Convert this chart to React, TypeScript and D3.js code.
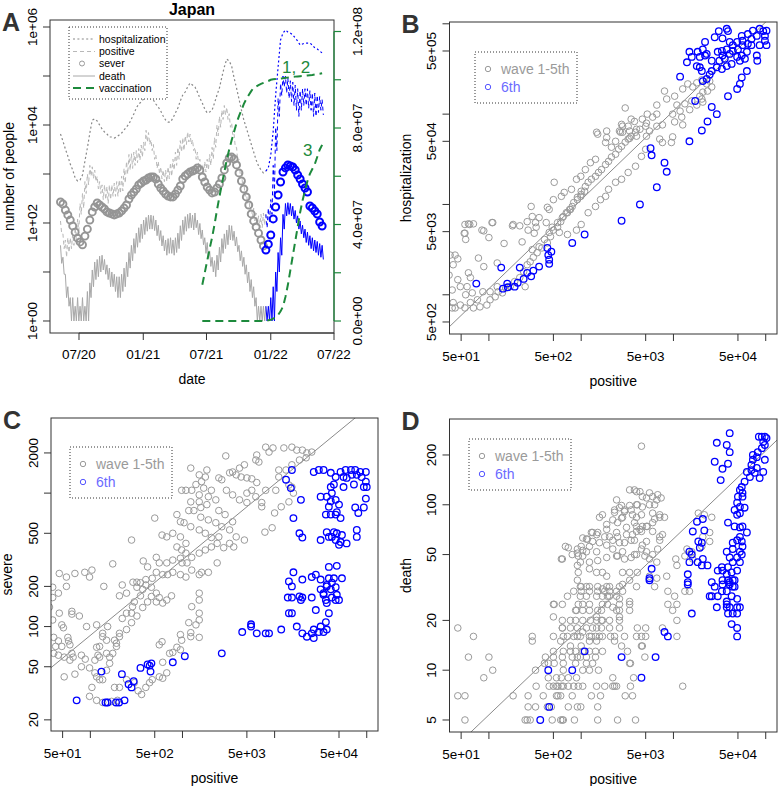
import React from 'react';
import * as d3 from 'd3';

// weekly samples, first week starts 2020-05-09
const START = new Date(2020, 4, 9);
const WAVE6 = 84; // index of first 6th-wave week (2021-12-18)
const VAC_START = 58; // vaccination series begins at this week

const hospitalization = [6550, 4710, 3240, 2330, 1600, 1210, 830, 720, 755, 955, 1840, 3400, 6870, 12600, 13300, 12100, 10000, 8290, 7200, 6550, 5690, 5690, 5430, 5690, 6250, 6870, 7900, 9100, 10500, 13300, 16800, 22200, 26800, 29500, 34000, 37300, 37300, 34000, 32400, 26800, 23300, 19300, 15300, 12600, 11500, 11500, 13900, 17600, 22200, 30900, 40900, 47100, 59700, 71900, 65500, 59700, 47100, 35600, 28100, 21200, 17600, 18400, 20200, 28100, 40900, 56900, 95500, 153000, 222000, 202000, 160000, 91000, 56900, 34000, 20200, 12600, 8690, 5970, 4100, 2810, 1930, 1460, 1210, 1050, 1150, 1330, 2440, 7550, 40900, 153000, 543000, 755000, 869000, 791000, 755000, 687000, 597000, 518000, 429000, 450000, 471000, 471000, 471000, 429000, 373000, 356000, 324000, 295000];
const severe = [268, 244, 184, 146, 115, 87, 65, 49, 41, 36, 54, 75, 115, 168, 212, 256, 233, 212, 193, 168, 160, 153, 146, 153, 160, 176, 202, 233, 309, 373, 429, 494, 597, 655, 720, 755, 829, 869, 869, 791, 625, 518, 450, 391, 356, 340, 340, 391, 471, 569, 791, 910, 1000, 1100, 1150, 1210, 1330, 1210, 869, 687, 543, 471, 410, 429, 518, 625, 829, 1210, 1680, 2120, 2220, 2020, 1530, 1050, 720, 494, 340, 233, 153, 110, 83, 62, 45, 34, 28, 37, 57, 121, 212, 373, 687, 1100, 1330, 1530, 1460, 1390, 1210, 955, 791, 625, 518, 429, 222, 202, 176, 153, 105, 87];
const positiveHigh = [110, 60, 45, 50, 50, 60, 80, 120, 250, 400, 700, 1000, 1500, 1400, 1200, 900, 700, 600, 600, 550, 600, 600, 650, 700, 750, 900, 1300, 1800, 2500, 2600, 2800, 3000, 3300, 3900, 4500, 7800, 7000, 5000, 4000, 2500, 1800, 1400, 1200, 1200, 1400, 1700, 2000, 2800, 3500, 4800, 5500, 6000, 7200, 6500, 5000, 3500, 2800, 2000, 1600, 1800, 2000, 2500, 3500, 5500, 10000, 15000, 20000, 25000, 23000, 17000, 11000, 6500, 3500, 2000, 1100, 700, 450, 350, 250, 200, 160, 140, 150, 160, 150, 200, 300, 1500, 9000, 35000, 70000, 100000, 100000, 90000, 80000, 75000, 65000, 55000, 50000, 55000, 55000, 55000, 50000, 45000, 45000, 40000, 38000, 33000];
const positiveLow = [60, 30, 20, 25, 30, 35, 45, 70, 150, 200, 400, 600, 900, 800, 700, 500, 400, 300, 300, 250, 300, 350, 350, 350, 400, 450, 650, 1000, 1200, 1300, 1500, 1700, 1900, 2200, 3000, 4500, 4000, 3000, 2000, 1300, 1000, 800, 700, 700, 800, 900, 1200, 1500, 2000, 2800, 3000, 4000, 4500, 4000, 3000, 2000, 1500, 1200, 1000, 1100, 1200, 1500, 2000, 3500, 6000, 9000, 13000, 16000, 13000, 9000, 6000, 3500, 1800, 1000, 600, 350, 250, 180, 130, 110, 90, 80, 80, 90, 80, 100, 150, 400, 3000, 15000, 40000, 60000, 45000, 35000, 30000, 25000, 20000, 15000, 20000, 25000, 25000, 22000, 20000, 15000, 15000, 18000, 20000, 16000];
const deathHigh = [35, 20, 9, 5, 3, 3, 2, 3, 2, 3, 2, 4, 6, 11, 16, 18, 21, 22, 18, 14, 12, 10, 9, 8, 8, 9, 12, 16, 25, 35, 48, 62, 80, 95, 115, 130, 145, 145, 140, 115, 90, 70, 55, 45, 48, 50, 45, 50, 62, 88, 115, 135, 150, 160, 145, 160, 115, 98, 72, 50, 40, 27, 20, 17, 22, 32, 48, 60, 72, 90, 88, 68, 52, 35, 27, 20, 14, 10, 7, 5, 3, 2, 2, 2, 2, 2, 3, 5, 10, 25, 50, 150, 250, 260, 250, 220, 180, 140, 110, 90, 75, 65, 55, 50, 45, 42, 38, 35];
const deathLow = [15, 9, 3, 2, 1, 1, 1, 1, 1, 1, 1, 1, 3, 5, 7, 8, 10, 11, 9, 7, 5, 5, 4, 3, 3, 4, 5, 8, 12, 17, 24, 32, 40, 48, 58, 68, 75, 75, 70, 55, 44, 34, 27, 22, 24, 24, 22, 25, 30, 44, 58, 68, 78, 80, 72, 80, 58, 48, 36, 24, 19, 13, 10, 8, 11, 16, 24, 30, 36, 45, 44, 34, 26, 17, 13, 9, 6, 4, 3, 2, 1, 1, 1, 1, 1, 1, 1, 1, 4, 10, 22, 75, 140, 150, 140, 120, 100, 75, 60, 50, 40, 35, 30, 27, 25, 22, 20, 18];
const vaccine12 = [1.5e7, 2.0e7, 2.5e7, 3.0e7, 3.46e7, 4.0e7, 4.6e7, 5.15e7, 5.67e7, 6.17e7, 6.68e7, 7.11e7, 7.49e7, 7.85e7, 8.21e7, 8.49e7, 8.74e7, 9.0e7, 9.2e7, 9.37e7, 9.53e7, 9.67e7, 9.72e7, 9.78e7, 9.83e7, 9.87e7, 9.91e7, 9.95e7, 1.0e8, 1.002e8, 1.003e8, 1.004e8, 1.005e8, 1.006e8, 1.008e8, 1.009e8, 1.011e8, 1.012e8, 1.013e8, 1.014e8, 1.015e8, 1.016e8, 1.017e8, 1.018e8, 1.019e8, 1.02e8, 1.022e8, 1.024e8, 1.025e8, 1.027e8];
const vaccine3 = [0, 0, 0, 0, 0, 0, 0, 0, 0, 0, 0, 0, 0, 0, 0, 0, 0, 0, 0, 0, 0, 0, 0, 0, 0, 0, 1e5, 3e5, 5e5, 1e6, 1.5e6, 2.5e6, 4e6, 6e6, 1e7, 1.5e7, 2.1e7, 2.7e7, 3.3e7, 3.9e7, 4.5e7, 5.0e7, 5.4e7, 5.8e7, 6.1e7, 6.3e7, 6.5e7, 6.8e7, 7.1e7, 7.3e7];

const dateTicks = [new Date(2020, 6, 1), new Date(2021, 0, 1), new Date(2021, 6, 1), new Date(2022, 0, 1), new Date(2022, 6, 1)];
const dateTickLabels = ['07/20', '01/21', '07/21', '01/22', '07/22'];

// panel B: positive vs hospitalization
const bGray = [[38, 2750], [41, 2150], [46, 2500], [37, 1650], [46, 1470], [60, 1750], [63, 1550], [55, 6000], [60, 6100], [68, 6100], [55, 4800], [56, 4100], [77, 2550], [88, 5100], [100, 4300], [110, 6300], [88, 2050], [123, 2250], [146, 3700], [183, 6000], [216, 5800], [229, 3850], [260, 6450], [295, 7350], [320, 6300], [266, 5200], [310, 4800], [287, 9500], [430, 9300], [500, 11300], [418, 6300], [43, 2750], [49, 1230], [40, 1130], [56, 1000], [58, 1230], [66, 1050], [75, 880], [86, 1080], [103, 1080], [123, 1230],
  [41, 820], [40, 715], [43, 715], [49, 770], [55, 715], [63, 820], [68, 715], [80, 735], [95, 770], [103, 880], [117, 950], [126, 1080], [140, 1050], [152, 1190], [170, 1230], [190, 1400], [216, 1550], [238, 1800], [247, 1230], [260, 2150], [280, 2320], [303, 2600], [333, 2920], [375, 3300], [430, 3750], [465, 4400], [500, 5200], [555, 5600], [600, 6450], [640, 7350], [710, 8100], [765, 8800], [830, 10500], [910, 12000], [1000, 12900], [1090, 14000],
  [295, 3160], [350, 3400], [400, 4100], [450, 4900], [485, 5600], [555, 6300], [625, 7150], [690, 8100], [750, 8800], [800, 9500], [910, 11300], [990, 12300], [1000, 14000], [1110, 15800], [1190, 17600], [1290, 19000], [1430, 20500], [1540, 22600], [1660, 24300], [1840, 27700], [1980, 30000], [2130, 33500], [2360, 36000], [2550, 41000], [2740, 44000], [3000, 49000], [3230, 53000], [3480, 57000], [3880, 63000], [4330, 68000], [5000, 73500],
  [510, 17600], [180, 5800], [108, 6300], [62, 6000], [54, 4800], [84, 5200], [325, 5600], [350, 7150], [450, 8800], [610, 12300], [655, 13600], [785, 14700], [890, 19000], [990, 20500], [1110, 24300], [1260, 29000], [1430, 31600], [1470, 63000], [1840, 48500], [1890, 65000], [2360, 50000], [2670, 63000], [2740, 77000], [3230, 73500], [3000, 117000], [3480, 88000],
  [580, 4900], [710, 4650], [890, 5200], [1000, 6000], [1190, 8100], [1430, 9500], [1620, 11300], [1840, 12300], [1980, 14700], [2360, 17600], [2740, 19000], [3230, 22600], [3880, 26500], [4500, 34100], [5000, 40800],
  [6600, 126000], [6600, 100000], [8000, 180000], [10300, 158000], [8450, 147000], [10900, 126000], [12600, 190000], [14300, 216000], [16200, 200000], [17900, 222000], [20300, 240000], [22900, 216000], [24700, 232000], [26000, 200000], [19300, 158000], [20300, 147000], [15800, 140000], [13300, 130000], [11800, 108000], [9800, 100000], [10300, 82000], [7600, 76000], [6600, 73500], [5500, 65000], [9800, 56000], [9500, 48500], [7600, 48500], [7100, 53000], [12600, 76000], [12300, 92600], [15000, 112000], [17900, 126000], [20800, 136000], [23400, 180000], [20800, 175000], [5950, 92600], [5100, 79400], [3980, 68000], [3350, 65000], [2810, 63000], [3350, 54000], [1510, 60000], [1890, 55000], [2130, 43000], [2600, 65000], [2810, 73500], [3780, 83000], [4600, 88000], [5200, 100000], [3980, 57000], [5100, 57000]];
const bBlue = [[31000, 830000], [37800, 880000], [39000, 830000], [28000, 710000], [34000, 690000], [55000, 735000], [72600, 840000], [86000, 880000], [94000, 830000], [102000, 840000], [98000, 735000], [80000, 735000], [70000, 680000], [64000, 770000], [56000, 650000], [49000, 630000], [44000, 580000], [40700, 630000], [37800, 520000], [33500, 500000], [30200, 490000], [34000, 445000], [40700, 464000], [44000, 500000], [50000, 520000], [56000, 580000], [64000, 600000], [62500, 490000], [55000, 445000], [49000, 430000], [52500, 390000], [42700, 360000], [37800, 340000], [33500, 316000], [29500, 330000], [31500, 390000], [26000, 300000], [26000, 390000], [36000, 410000], [80000, 445000], [81000, 390000], [98000, 650000], [102000, 580000], [86000, 580000], [70000, 580000], [59500, 410000], [14900, 490000], [15800, 430000], [14000, 375000], [17900, 340000], [19300, 330000], [20300, 300000], [18300, 490000], [20800, 520000], [22000, 445000], [19300, 430000], [22900, 245000], [20800, 232000], [11800, 260000], [24700, 275000], [22000, 630000], [22900, 464000], [62500, 300000], [55000, 255000], [52500, 216000], [49000, 190000], [39000, 158000], [17200, 140000], [26000, 120000], [29500, 100000], [23400, 83000], [20300, 66000], [14900, 50000], [5650, 42000], [8000, 29000], [8450, 23000], [6600, 15500], [4330, 10000], [2740, 6600], [1090, 4650], [800, 3750], [430, 3300], [475, 3000], [440, 2750], [450, 2450], [450, 2200], [350, 2050], [303, 1850], [260, 1750], [287, 1600], [238, 1500], [205, 1360], [190, 1230], [158, 1330], [160, 1210], [142, 1170], [216, 2000], [136, 2000], [73, 1330], [5800, 35000]];

// panel C: positive vs severe
const cGray = [[2950, 1900], [8000, 2210], [9600, 2180], [12600, 2180], [15400, 2210], [17400, 2100], [20000, 2100], [22400, 2000], [25300, 2030], [22000, 1840], [18600, 1770], [15400, 1630], [13300, 1490], [11100, 1490], [8700, 2030], [6400, 1930], [6250, 1770], [6750, 1710], [4700, 1630], [4160, 1540], [3500, 1440], [3250, 1420], [3830, 1370], [4330, 1320], [5000, 1300], [5650, 1280], [6400, 1200], [5650, 1050], [5000, 1000], [6250, 940], [7250, 850], [5000, 850], [4160, 890], [3500, 970], [3000, 1050], [2670, 1260], [2480, 1300], [2060, 1050], [1770, 1320], [1520, 1370], [1840, 1490], [1610, 1220], [1400, 1160], [1260, 1050], [1520, 970], [1910, 940], [2300, 890], [1840, 820], [1580, 780], [1330, 740], [1580, 660], [1910, 630], [2300, 600], [2670, 560], [3250, 530], [3830, 470], [4700, 445], [2480, 470], [2060, 465], [1770, 500], [1520, 530], [1230, 560], [1040, 600], [950, 610], [1170, 740], [980, 1050], [1230, 860], [2480, 740], [2900, 690], [3500, 610], [3250, 420], [3600, 395], [2800, 390], [2380, 420], [2060, 395], [1770, 375], [1520, 355], [1260, 330], [1090, 355], [980, 375], [870, 395], [1090, 420], [950, 470], [785, 500], [675, 470], [600, 485], [870, 690], [1520, 860], [1700, 1090], [1230, 1540], [1090, 1050], [500, 650], [280, 445], [175, 295], [375, 310], [418, 280], [520, 330], [560, 300], [675, 300], [785, 315], [950, 325], [990, 300], [1120, 300], [1260, 265], [1520, 245], [1610, 255], [1910, 255], [2380, 300], [1090, 235], [950, 245], [785, 255], [690, 245], [610, 245], [520, 255], [470, 230], [400, 225], [350, 213], [320, 215], [7850, 510], [9400, 550], [7250, 790], [10000, 710], [11800, 790], [14300, 860], [16000, 1000], [15400, 1110], [14300, 1150], [11100, 1320], [10300, 1050], [8000, 1050], [46, 250], [55, 235], [68, 250], [87, 255], [98, 235], [104, 265], [140, 200], [222, 205], [290, 215],
  [39, 197], [55, 200], [45, 178], [39, 165], [36, 140], [46, 126], [39, 112], [63, 130], [63, 124], [76, 120], [49, 103], [51, 98], [91, 100], [40, 83], [45, 78], [57, 83], [58, 78], [42, 71], [49, 71], [60, 73], [40, 63], [45, 61], [52, 59], [63, 63], [65, 59], [60, 56], [80, 61], [88, 57], [52, 42], [68, 44], [80, 50], [98, 49], [112, 45], [117, 42], [126, 40], [112, 56], [126, 59], [150, 63], [162, 59], [121, 61], [136, 84], [150, 79], [117, 103], [154, 100], [136, 89], [126, 71], [117, 70], [183, 79], [192, 75], [207, 89], [222, 115], [247, 126], [280, 126], [287, 141], [300, 153], [350, 170], [207, 170], [247, 178], [320, 197], [370, 190], [400, 205], [460, 197], [520, 178], [560, 165], [675, 158], [760, 170], [520, 153], [610, 150], [460, 168], [418, 153], [370, 139], [320, 120], [280, 107], [247, 95], [207, 84], [192, 71], [175, 63], [162, 53], [150, 47], [136, 40], [104, 35], [98, 30], [117, 28], [136, 27], [154, 27], [170, 27.5], [197, 28], [183, 35], [207, 35], [247, 40], [300, 38], [330, 33], [360, 31], [400, 35], [440, 38], [470, 40], [560, 42], [610, 41], [675, 45], [610, 54], [725, 63], [785, 64], [870, 70], [950, 67], [980, 79], [950, 87], [1230, 84], [1230, 90], [1170, 107], [1400, 103], [1520, 112], [1520, 126], [1520, 158], [1520, 178], [1260, 141], [1520, 83], [600, 77], [560, 73]];
const cBlue = [[15400, 1490], [13300, 1260], [15000, 1090], [19300, 890], [16000, 650], [18600, 500], [20000, 465], [26600, 1440], [30200, 1490], [34000, 1490], [40700, 1420], [46000, 1320], [52000, 1440], [59000, 1490], [67400, 1490], [75000, 1490], [85000, 1440], [97800, 1440], [56000, 1320], [60500, 1300], [69000, 1370], [78000, 1370], [88000, 1320], [97800, 1220], [100000, 1110], [93000, 1110], [72600, 1160], [56000, 1110], [44000, 1160], [40700, 1110], [41800, 1000], [36800, 940], [31600, 940], [40700, 870], [46000, 890], [50000, 820], [97800, 910], [93000, 780], [75000, 780], [81000, 710], [36000, 690], [40700, 690], [46000, 690], [52000, 650], [47300, 720], [38800, 790], [78000, 530], [78000, 470], [36800, 510], [44000, 510], [47300, 500], [53800, 485], [41800, 470], [38800, 470], [31600, 445], [46000, 445], [60500, 420], [52000, 430], [50000, 410], [16000, 255], [38800, 280], [47300, 285], [14300, 218], [15400, 200], [20000, 225], [25300, 235], [28000, 245], [31600, 225], [38800, 230], [44000, 230], [53800, 230], [36800, 205], [41800, 213], [13900, 165], [15400, 165], [18600, 168], [20000, 165], [19300, 158], [25300, 165], [28000, 133], [31600, 190], [34000, 173], [36000, 158], [36800, 150], [34000, 178], [36800, 200], [40700, 190], [46000, 197], [47300, 173], [41800, 165], [46000, 158], [50000, 158], [38800, 126], [36000, 108], [31600, 100], [30200, 91], [34000, 91], [36800, 95], [26600, 95], [25300, 89], [22400, 84], [26600, 82], [20000, 89], [17400, 100], [14300, 126], [15400, 126], [11800, 95], [8000, 89], [8700, 89], [6400, 89], [5550, 104], [5550, 100], [4450, 91], [2670, 63], [1060, 60], [785, 54], [460, 53], [440, 51], [418, 52], [450, 46], [350, 49], [295, 39], [260, 37], [280, 35], [220, 44], [132, 46], [235, 28], [205, 27], [190, 27], [154, 27], [146, 27], [71, 28]];

// panel D: positive vs death
const dGray = [[55, 5], [247, 5], [260, 5], [280, 5], [485, 5], [600, 5], [625, 5], [640, 5], [845, 5], [1510, 5], [2480, 5], [3880, 5],
  [266, 6], [320, 6], [430, 6], [475, 6], [725, 6], [910, 6], [990, 6], [1510, 6],
  [46, 7], [55, 7], [183, 7], [266, 7], [388, 7], [540, 7], [560, 7], [600, 7], [800, 7], [1290, 7], [1620, 7], [3000, 7], [3600, 7],
  [325, 8], [450, 8], [500, 8], [540, 8], [560, 8], [610, 8], [640, 8], [725, 8], [830, 8], [930, 8], [1040, 8], [1470, 8], [1800, 8], [2200, 8], [2300, 8], [2420, 8], [3420, 8], [12600, 8],
  [88, 9], [440, 9], [540, 9], [610, 9], [725, 9], [890, 9], [2200, 9], [3700, 9],
  [110, 10], [320, 10], [640, 10], [1040, 10], [1230, 10], [1540, 10],
  [400, 11], [440, 11], [510, 11], [640, 11], [870, 11], [1140, 11], [1330, 11], [3420, 11],
  [60, 12], [100, 12], [410, 12], [500, 12], [625, 12], [800, 12], [910, 12], [980, 12], [1140, 12], [1430, 12], [4900, 12],
  [500, 13], [640, 13], [765, 13], [870, 13], [1040, 13], [1230, 13], [1430, 13], [1700, 13], [3180, 13], [4500, 14], [4600, 14],
  [68, 16], [295, 16], [500, 16], [640, 16], [830, 16], [980, 16], [1230, 16], [1430, 16], [1580, 16], [2080, 16], [2300, 16], [2950, 16], [3980, 16], [4500, 16], [5000, 16], [10900, 16],
  [46, 18], [625, 18], [765, 18], [910, 18], [1140, 18], [1470, 18], [2030, 18], [4060, 18], [5000, 18], [7600, 18],
  [625, 20], [765, 20], [870, 20], [1040, 20], [1260, 20], [1470, 20], [1700, 20], [2600, 20], [10900, 20],
  [870, 23], [1040, 23], [1230, 23], [1510, 23], [1660, 23], [2420, 23], [3350, 23], [9800, 23],
  [500, 25], [625, 25], [930, 25], [1040, 25], [1230, 25], [1700, 25], [1930, 25], [2600, 25], [3350, 25], [8700, 25], [10900, 25],
  [710, 28], [980, 28], [1140, 28], [1470, 28], [1700, 28], [2030, 28], [2420, 28], [10300, 28],
  [830, 30], [1000, 30], [1230, 30], [1510, 30], [1800, 30], [2030, 30], [2420, 30], [2810, 30], [8700, 30], [13300, 30], [14900, 30],
  [1000, 32], [1230, 32], [1510, 32], [1890, 32], [2600, 32], [3980, 32], [6250, 32],
  [295, 15], [600, 15], [765, 14], [1000, 14], [1230, 15], [1470, 15], [1700, 16], [2300, 15], [2740, 14], [3350, 11], [2600, 18], [1330, 18], [1660, 18], [1290, 16], [1040, 17], [910, 16], [710, 16], [2200, 24], [2600, 23], [2600, 21], [2030, 20], [1660, 20], [1470, 21], [1930, 28], [1700, 31], [2030, 32], [1890, 37], [1700, 39], [1470, 39], [1230, 41], [980, 32], [1140, 32], [910, 35], [930, 39], [910, 43], [1230, 45], [1040, 49], [930, 49], [1140, 52], [1230, 56], [1470, 52], [2810, 39], [3350, 39], [3350, 35], [2810, 33], [2600, 27], [3350, 26], [2480, 49], [2950, 47], [3480, 48], [3980, 50], [4500, 54], [5100, 52], [5950, 50], [6750, 54], [5500, 47], [6600, 45], [2200, 54], [1890, 57], [1580, 59], [1330, 60], [1170, 62], [1040, 63], [1470, 66], [1800, 64], [2200, 61], [2600, 59], [2950, 59], [3480, 61], [3780, 61], [4600, 57], [1040, 53], [675, 56], [725, 55], [625, 47], [910, 54], [1510, 68], [1890, 71], [2420, 68], [3100, 66], [3600, 66], [3980, 69], [4500, 69], [5100, 60], [7100, 61], [7600, 66], [1330, 68], [2480, 78], [2200, 81], [2300, 93], [2740, 83], [2950, 91], [3480, 93], [3980, 84], [4500, 87], [3780, 78], [3980, 74], [4600, 74], [5200, 74], [5950, 89], [5950, 78], [7100, 84], [6250, 100], [4600, 97], [3980, 100], [3350, 99], [2740, 99], [5100, 110], [5500, 118], [5950, 112], [6750, 115], [7350, 110], [8000, 84], [4330, 120], [3780, 123], [3350, 123], [1700, 87], [1890, 76], [2420, 107],
  [4500, 226], [3980, 120], [4600, 112], [6600, 107], [5500, 100], [4060, 100], [2950, 93], [2600, 96], [2300, 90], [2810, 84], [3600, 87], [7100, 87], [6250, 82], [5100, 74], [4330, 71], [5950, 69], [7100, 64], [3100, 73], [1580, 84], [1290, 68], [1140, 62], [1000, 56], [910, 51], [800, 50], [610, 47], [980, 45], [1510, 46], [1890, 48], [2420, 49], [2810, 52], [3780, 50], [4900, 49], [2480, 64], [2030, 64], [4060, 39], [5500, 37], [6600, 36], [8450, 37], [10600, 47], [10900, 43], [13300, 49], [16200, 47], [20800, 64], [24700, 68], [18600, 89], [21600, 87], [26000, 84], [14000, 54], [15800, 52], [20300, 56], [24700, 60], [500, 21], [625, 18], [510, 25], [890, 23]];
const dBlue = [[40700, 271], [29500, 237], [37800, 230], [40700, 208], [28000, 182], [39000, 177], [34000, 165], [32500, 141], [84300, 258], [90800, 258], [97800, 258], [102000, 253], [94000, 240], [97800, 230], [90800, 220], [82000, 208], [72600, 187], [70000, 174], [80000, 167], [76000, 156], [86000, 145], [94000, 158], [97800, 187], [80000, 194], [72600, 200], [70000, 162], [67400, 147], [62500, 158], [59000, 138], [55000, 128], [52500, 123], [50000, 112], [56000, 118], [49000, 103], [52500, 97], [46000, 93], [52500, 89], [49000, 87], [59000, 96], [56000, 112], [39000, 78], [46000, 74], [52500, 73], [56000, 74], [62500, 68], [52500, 64], [49000, 61], [55000, 60], [43900, 59], [56000, 56], [43900, 54], [52500, 52], [55000, 50], [49000, 48], [37800, 52], [40700, 48], [43900, 45], [52500, 45], [39000, 42], [33500, 42], [30200, 40], [34000, 40], [37800, 38], [42700, 39], [49000, 40], [43900, 35], [39000, 35], [18000, 79], [20800, 82], [16200, 69], [21600, 70], [18600, 60], [20300, 59], [14900, 52], [15800, 50], [19300, 55], [20800, 47], [18300, 45], [20300, 43], [23400, 43], [14900, 45], [5800, 41], [5500, 36], [14300, 38], [14300, 33], [26000, 34], [34000, 35], [40700, 34], [46000, 35], [28000, 32], [34000, 33], [40700, 33], [46000, 32], [33500, 30], [37800, 30], [43900, 32], [26000, 28], [30200, 28], [37800, 26], [42700, 28], [49000, 27], [49000, 24], [37800, 25], [40700, 24], [39000, 22], [43900, 22], [49000, 22], [37800, 24], [29500, 24], [52500, 24], [24700, 28], [14300, 34], [15800, 22], [42700, 19], [49000, 18], [49000, 16], [8000, 17], [8700, 16], [6400, 12], [4500, 9], [2740, 12], [1090, 13], [800, 10], [440, 10], [450, 6], [360, 5], [5500, 35]];

// fitted lines on log10 scales: log10(y) = a + b * log10(x)
const fitB = { a: 1.10, b: 0.984 };
const fitC = { a: 0.80, b: 0.567 };
const fitD = { a: -0.334, b: 0.532 };

const FONT = '"Liberation Sans", Arial, Helvetica, sans-serif';
const GREEN = '#1d8a3c';
const GRAY_PT = '#9a9a9a';

const weekDate = (i: number) => d3.timeDay.offset(START, 7 * i);

function RotText({ x, y, children, size = 13.5, fill = '#000' }: any) {
  return (
    <text transform={`translate(${x},${y}) rotate(-90)`} textAnchor="middle" dominantBaseline="central"
      fontSize={size} fill={fill}>{children}</text>
  );
}

function PanelA() {
  const L = 50, R = 334, T = 20, B = 333;
  const x = d3.scaleTime().domain([new Date(2020, 3, 9), new Date(2022, 6, 1)]).range([L, R]);
  const y = d3.scaleLog().domain([10 ** -0.245, 10 ** 6.143]).range([B, T]);
  const yR = d3.scaleLinear().domain([-4.97e6, 1.2477e8]).range([B, T]);
  const line = d3.line<[Date, number]>().x(d => x(d[0])).y(d => y(d[1]));
  const lineR = d3.line<[Date, number]>().x(d => x(d[0])).y(d => yR(d[1]));

  const hosp = hospitalization.map((v, i) => [weekDate(i), v] as [Date, number]);
  const zig = (hi: number[], lo: number[]) =>
    hi.flatMap((v, i) => [[weekDate(i), v], [d3.timeHour.offset(weekDate(i), 84), lo[i]]] as [Date, number][]);
  const pos = zig(positiveHigh, positiveLow);
  const dth = zig(deathHigh, deathLow);
  const vac12 = vaccine12.map((v, i) => [weekDate(VAC_START + i), v] as [Date, number]);
  const vac3 = vaccine3.map((v, i) => [weekDate(VAC_START + i), v] as [Date, number]);

  const leftTicks = d3.range(0, 7).map(e => 10 ** e);
  const rightTicks = d3.range(0, 1.2e8 + 1, 2e7);
  const rightLabels: Record<number, string> = { 0: '0.0e+00', 40000000: '4.0e+07', 80000000: '8.0e+07', 120000000: '1.2e+08' };

  return (
    <g>
      <defs>
        <clipPath id="clipA"><rect x={L} y={T} width={R - L} height={B - T} /></clipPath>
      </defs>
      <g clipPath="url(#clipA)" fill="none">
        <path d={line(hosp.slice(0, WAVE6 + 1)) || ''} stroke="#888" strokeWidth={1.2} strokeDasharray="2,2.4" />
        <path d={line(hosp.slice(WAVE6)) || ''} stroke="#0000ff" strokeWidth={1.2} strokeDasharray="2,2.4" />
        <path d={line(pos.slice(0, 2 * WAVE6 + 1)) || ''} stroke="#b8b8b8" strokeWidth={1} strokeDasharray="4,3" />
        <path d={line(pos.slice(2 * WAVE6)) || ''} stroke="#0000ff" strokeWidth={1} strokeDasharray="4,3" />
        <path d={line(dth.slice(0, 2 * WAVE6 + 1)) || ''} stroke="#a8a8a8" strokeWidth={1} />
        <path d={line(dth.slice(2 * WAVE6)) || ''} stroke="#0000ff" strokeWidth={1} />
        {severe.map((v, i) => (
          <circle key={i} cx={x(weekDate(i))} cy={y(v)} r={3.5}
            stroke={i < WAVE6 ? '#959595' : '#0000ff'} strokeWidth={i < WAVE6 ? 1.9 : 2} />
        ))}
        <path d={lineR(vac12) || ''} stroke={GREEN} strokeWidth={2} strokeDasharray="8,5" />
        <path d={lineR(vac3) || ''} stroke={GREEN} strokeWidth={2} strokeDasharray="8,5" />
      </g>
      <text x={x(new Date(2022, 1, 2))} y={yR(1.027e8)} fontSize={17} fill={GREEN}>1, 2</text>
      <text x={x(new Date(2022, 3, 17))} y={yR(6.85e7)} fontSize={17} fill={GREEN} textAnchor="middle">3</text>

      <rect x={L} y={T} width={R - L} height={B - T} fill="none" stroke="#333" strokeWidth={1} />
      {/* bottom axis */}
      <line x1={x(dateTicks[0])} x2={x(dateTicks[4])} y1={B} y2={B} stroke="#333" />
      {dateTicks.map((d, i) => (
        <g key={i}>
          <line x1={x(d)} x2={x(d)} y1={B} y2={B + 7} stroke="#333" />
          <text x={x(d)} y={B + 26} textAnchor="middle" fontSize={13.5}>{dateTickLabels[i]}</text>
        </g>
      ))}
      {/* left axis */}
      {leftTicks.map((t, i) => (
        <g key={i}>
          <line x1={L - 7} x2={L} y1={y(t)} y2={y(t)} stroke="#333" />
          {i % 2 === 0 && <RotText x={L - 18} y={y(t)}>{`1e+0${i}`}</RotText>}
        </g>
      ))}
      {/* right axis */}
      <line x1={R} x2={R} y1={yR(0)} y2={yR(1.2e8)} stroke={GREEN} strokeWidth={1.2} />
      {rightTicks.map((t, i) => (
        <g key={i}>
          <line x1={R} x2={R + 7} y1={yR(t)} y2={yR(t)} stroke={GREEN} strokeWidth={1.2} />
          {rightLabels[t] && <RotText x={R + 23} y={yR(t)}>{rightLabels[t]}</RotText>}
        </g>
      ))}
      <text x={(L + R) / 2} y={B + 51} textAnchor="middle" fontSize={14}>date</text>
      <RotText x={9} y={(T + B) / 2} size={14}>number of people</RotText>
      <text x={(L + R) / 2} y={15} textAnchor="middle" fontSize={16} fontWeight="bold">Japan</text>
      <text x={2} y={31} fontSize={25} fontWeight="bold" fill="#333">A</text>

      {/* legend */}
      <rect x={69} y={27} width={98} height={72} fill="#fff" stroke="#333" strokeDasharray="1,2" />
      <g fontSize={10.5}>
        <line x1={73} x2={95} y1={39} y2={39} stroke="#888" strokeWidth={1.2} strokeDasharray="2,2.4" />
        <text x={99} y={42.5}>hospitalization</text>
        <line x1={73} x2={95} y1={51.5} y2={51.5} stroke="#b8b8b8" strokeDasharray="4,3" />
        <text x={99} y={55}>positive</text>
        <circle cx={82} cy={63.5} r={2.5} fill="none" stroke="#9a9a9a" strokeWidth={1} />
        <text x={99} y={67}>sever</text>
        <line x1={73} x2={95} y1={76} y2={76} stroke="#a8a8a8" />
        <text x={99} y={79.5}>death</text>
        <line x1={73} x2={95} y1={88} y2={88} stroke={GREEN} strokeWidth={2} strokeDasharray="8,5" />
        <text x={99} y={91.5}>vaccination</text>
      </g>
    </g>
  );
}

interface ScatterProps {
  box: { l: number; r: number; t: number; b: number };
  yDomain: [number, number];
  yTicks: number[];
  yLabels: (string | null)[];
  gray: number[][];
  blue: number[][];
  fit: { a: number; b: number };
  yTitle: string;
  letter: string;
  legend: { x: number; y: number };
  id: string;
}

const xTicks = [50, 100, 500, 1000, 5000, 10000, 50000, 100000];
const xLabels = ['5e+01', null, '5e+02', null, '5e+03', null, '5e+04', null];

function Scatter({ box, yDomain, yTicks, yLabels, gray, blue, fit, yTitle, letter, legend, id }: ScatterProps) {
  const { l, r, t, b } = box;
  const x = d3.scaleLog().domain([37.4, 132500]).range([l, r]);
  const y = d3.scaleLog().domain(yDomain).range([b, t]);
  const x0 = 37.4, x1 = 132500;
  const fy = (v: number) => 10 ** (fit.a + fit.b * Math.log10(v));
  return (
    <g>
      <defs>
        <clipPath id={id}><rect x={l} y={t} width={r - l} height={b - t} /></clipPath>
      </defs>
      <g clipPath={`url(#${id})`} fill="none">
        <line x1={x(x0)} y1={y(fy(x0))} x2={x(x1)} y2={y(fy(x1))} stroke="#8a8a8a" strokeWidth={1} />
        {gray.map((d, i) => (
          <circle key={'g' + i} cx={x(d[0])} cy={y(d[1])} r={3.3} stroke={GRAY_PT} strokeWidth={1} />
        ))}
        {blue.map((d, i) => (
          <circle key={'b' + i} cx={x(d[0])} cy={y(d[1])} r={3.3} stroke="#0000ff" strokeWidth={1.3} />
        ))}
      </g>
      <rect x={l} y={t} width={r - l} height={b - t} fill="none" stroke="#333" />
      {xTicks.map((v, i) => (
        <g key={i}>
          <line x1={x(v)} x2={x(v)} y1={b} y2={b + 7} stroke="#333" />
          {xLabels[i] && <text x={x(v)} y={b + 27} textAnchor="middle" fontSize={13.5}>{xLabels[i]}</text>}
        </g>
      ))}
      {yTicks.map((v, i) => (
        <g key={i}>
          <line x1={l - 7} x2={l} y1={y(v)} y2={y(v)} stroke="#333" />
          {yLabels[i] && <RotText x={l - 18} y={y(v)}>{yLabels[i]}</RotText>}
        </g>
      ))}
      <text x={(l + r) / 2} y={b + 52} textAnchor="middle" fontSize={14}>positive</text>
      <RotText x={l - 44} y={(t + b) / 2} size={14}>{yTitle}</RotText>
      <text x={l - 48} y={t + 11} fontSize={25} fontWeight="bold" fill="#333">{letter}</text>

      <rect x={legend.x} y={legend.y} width={102} height={51} fill="#fff" stroke="#333" strokeDasharray="1,2" />
      <circle cx={legend.x + 13} cy={legend.y + 17} r={2.7} fill="none" stroke={GRAY_PT} />
      <text x={legend.x + 26} y={legend.y + 22} fontSize={14} fill="#9a9a9a">wave 1-5th</text>
      <circle cx={legend.x + 13} cy={legend.y + 35} r={2.7} fill="none" stroke="#5555ff" />
      <text x={legend.x + 26} y={legend.y + 40} fontSize={14} fill="#6b6bff">6th</text>
    </g>
  );
}

export default function App() {
  return (
    <svg width={778} height={786} style={{ position: 'absolute', left: 0, top: 0, background: '#fff' }}
      fontFamily={FONT}>
      <rect width={778} height={786} fill="#fff" />
      <PanelA />
      <Scatter id="clipB" box={{ l: 449.5, r: 777, t: 22, b: 334 }} yDomain={[368, 1.047e6]}
        yTicks={[500, 1000, 5000, 10000, 50000, 100000, 500000, 1000000]}
        yLabels={['5e+02', null, '5e+03', null, '5e+04', null, '5e+05', null]}
        gray={bGray} blue={bBlue} fit={fitB} yTitle="hospitalization" letter="B" legend={{ x: 475, y: 52 }} />
      <Scatter id="clipC" box={{ l: 51, r: 378, t: 418, b: 731 }} yDomain={[16.5, 3655]}
        yTicks={[20, 50, 100, 200, 500, 1000, 2000]}
        yLabels={['20', '50', '100', '200', '500', null, '2000']}
        gray={cGray} blue={cBlue} fit={fitC} yTitle="severe" letter="C" legend={{ x: 70, y: 447 }} />
      <Scatter id="clipD" box={{ l: 449.5, r: 777, t: 419, b: 732 }} yDomain={[4.23, 330]}
        yTicks={[5, 10, 20, 50, 100, 200]}
        yLabels={['5', '10', '20', '50', '100', '200']}
        gray={dGray} blue={dBlue} fit={fitD} yTitle="death" letter="D" legend={{ x: 469, y: 439 }} />
    </svg>
  );
}
